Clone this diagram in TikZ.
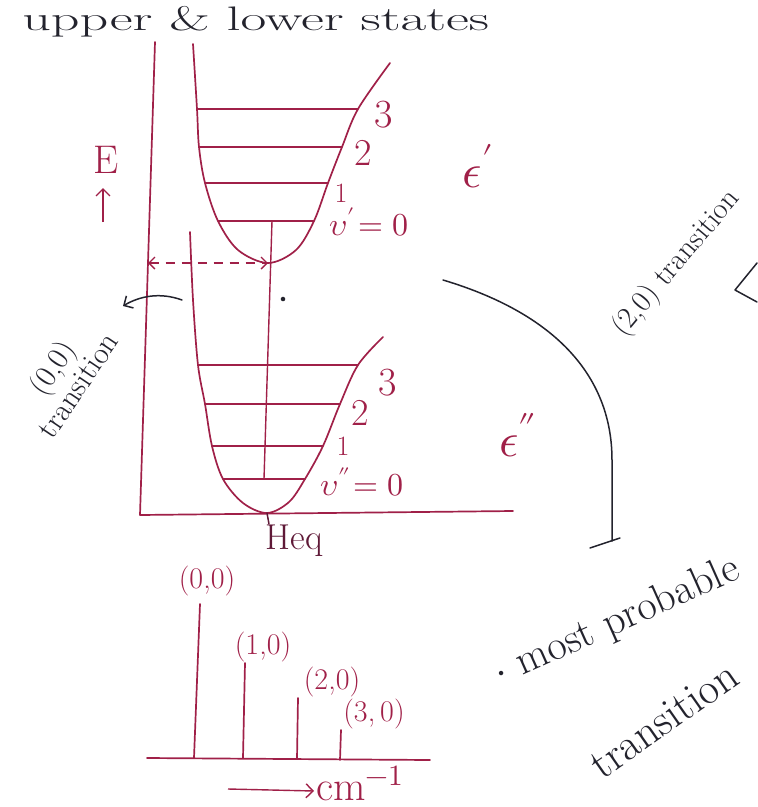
\documentclass[tikz,border=0pt]{standalone}
\usepackage{fontspec}
\usepackage{unicode-math}
\usetikzlibrary{arrows.meta}
\definecolor{ink}{RGB}{160,32,72}
\definecolor{pen}{RGB}{35,35,45}
\definecolor{dink}{RGB}{95,25,55}
\newcommand\fsz[1]{\fontsize{#1}{#1}\selectfont}
\tikzset{
  curve/.style={ink, line width=1.7pt, line cap=round, line join=round},
  levelline/.style={ink, line width=1.4pt, line cap=round},
  note/.style={pen, line width=1.5pt, line cap=round, line join=round},
  barb/.style={-{Straight Barb[length=7pt,width=14pt]}},
  lbl/.style={ink, inner sep=0pt},
  txt/.style={pen, inner sep=0pt},
}
\begin{document}
\begin{tikzpicture}[x=1pt,y=-1pt]
\useasboundingbox (0,0) rectangle (758,807);

% title
\node[txt, anchor=base west, xscale=1.65, font=\fsz{34}] (title) at (22,30) {upper \& lower states};

% axes
\coordinate (axTop) at (155,42);
\coordinate (axO) at (140,515);
\coordinate (axR) at (513,511);
\draw[curve] (axTop) -- (axO) -- (axR);

% upper curve
\coordinate (uTop) at (193,44);
\coordinate (u3l) at (197,109); \coordinate (u3r) at (358,109);
\coordinate (u2l) at (199,147); \coordinate (u2r) at (342,147);
\coordinate (u1l) at (205,183); \coordinate (u1r) at (328,183);
\coordinate (u0l) at (218,221); \coordinate (u0r) at (314,221);
\coordinate (uBot) at (268,263);
\coordinate (uEnd) at (390,63);
\draw[curve] plot[smooth, tension=0.55] coordinates {(uTop) (u3l) (u2l) (u1l) (u0l) (238,250) (uBot) (296,250) (u0r) (u1r) (u2r) (u3r) (uEnd)};
\foreach \n in {0,1,2,3} \draw[levelline] (u\n l) -- (u\n r);

% lower curve
\coordinate (lTop) at (190,232);
\coordinate (l3l) at (198,365); \coordinate (l3r) at (358,365);
\coordinate (l2l) at (205,404); \coordinate (l2r) at (340,404);
\coordinate (l1l) at (212,446); \coordinate (l1r) at (323,446);
\coordinate (l0l) at (223,479); \coordinate (l0r) at (305,479);
\coordinate (lBot) at (267,513);
\coordinate (lEnd) at (383,337);
\draw[curve] plot[smooth, tension=0.55] coordinates {(lTop) (193,300) (l3l) (l2l) (l1l) (l0l) (243,503) (lBot) (289,502) (l0r) (l1r) (l2r) (l3r) (lEnd)};
\foreach \n in {0,1,2,3} \draw[levelline] (l\n l) -- (l\n r);

% vertical transition line
\coordinate (ut) at (272,221);
\coordinate (lt) at (264,479);
\draw[levelline] (ut) -- (lt);

% tick and Heq
\coordinate (tk) at (269,524);
\draw[note, dink] (lBot) -- (tk);
\node[lbl, dink, font=\fsz{36}] (heq) at (294,541) {Heq};

% dashed arrow
\coordinate (dL) at (148,263);
\draw[ink, line width=1.4pt, dash pattern=on 9pt off 7pt, {Straight Barb[length=6pt,width=12pt]}-{Straight Barb[length=6pt,width=12pt]}] (dL) -- (uBot);

% level labels upper
\node[lbl, font=\fsz{40}] (a3) at (384,115) {3};
\node[lbl, font=\fsz{38}] (a2) at (363,153) {2};
\node[lbl, font=\fsz{28}] (a1) at (341,193) {1};
\node[lbl, font=\fsz{32}] (a0) at (369,222) {$\upsilon'\!=0$};
% level labels lower
\node[lbl, font=\fsz{40}] (b3) at (388,383) {3};
\node[lbl, font=\fsz{38}] (b2) at (360,413) {2};
\node[lbl, font=\fsz{28}] (b1) at (343,446) {1};
\node[lbl, font=\fsz{32}] (b0) at (362,482) {$\upsilon''\!=0$};

% E axis label
\node[lbl, font=\fsz{40}] (E) at (106,160) {E};
\coordinate (eA) at (103,222);
\coordinate (eB) at (103,188);
\draw[ink, line width=1.4pt, barb] (eA) -- (eB);

% epsilon labels
\node[lbl, font=\fsz{48}] (ep1) at (478,166) {$\epsilon'$};
\node[lbl, font=\fsz{48}] (ep2) at (518,435) {$\epsilon''$};

% (0,0) transition annotation
\coordinate (c00s) at (182,300);
\coordinate (c00e) at (123,306);
\draw[note, barb] (c00s) .. controls (160,292) and (140,296) .. (c00e);
\node[txt, rotate=56, align=center, font=\fsz{31}] (t00) at (64,376) {(0,0)\\transition};

% dot
\node[circle, fill=pen, inner sep=1.6pt] (dot) at (283,299) {};

% most probable transition connector
\coordinate (mpS) at (443,280);
\coordinate (mpE) at (612,541);
\draw[note] (mpS) .. controls (560,315) and (612,380) .. (612,460) -- (mpE);
\coordinate (mpF1) at (590,548);
\coordinate (mpF2) at (620,538);
\draw[note] (mpF1) -- (mpF2);
\node[txt, rotate=24, font=\fsz{42}] (mp1) at (617,622) {$\cdot$ most probable};
\node[txt, rotate=35, font=\fsz{44}] (mp2) at (664,720) {transition};

% (2,0) transition
\node[txt, rotate=50, anchor=base west, font=\fsz{30}] (t20) at (624,338) {(2,0) transition};
\coordinate (h1) at (757,263);
\coordinate (h2) at (735,290);
\coordinate (h3) at (757,302);
\draw[note] (h1) -- (h2) -- (h3);

% spectrum
\coordinate (sL) at (147,758);
\coordinate (sR) at (430,760);
\draw[curve] (sL) -- (sR);
\coordinate (s0t) at (200,604); \coordinate (s0b) at (194,758);
\coordinate (s1t) at (245,663); \coordinate (s1b) at (243,758);
\coordinate (s2t) at (298,698); \coordinate (s2b) at (297,759);
\coordinate (s3t) at (341,730); \coordinate (s3b) at (340,760);
\foreach \n in {0,1,2,3} \draw[curve] (s\n t) -- (s\n b);
\node[lbl, font=\fsz{30}] (p0) at (207,581) {(0,0)};
\node[lbl, font=\fsz{30}] (p1) at (263,647) {(1,0)};
\node[lbl, font=\fsz{30}] (p2) at (332,682) {(2,0)};
\node[lbl, font=\fsz{30}] (p3) at (374,714) {(3,\,0)};

% cm^-1 axis label
\coordinate (cmA) at (228,789);
\coordinate (cmB) at (314,791);
\draw[ink, line width=1.4pt, barb] (cmA) -- (cmB);
\node[lbl, font=\fsz{42}, anchor=west] (cm) at (316,783) {cm$^{-1}$};
\end{tikzpicture}
\end{document}
